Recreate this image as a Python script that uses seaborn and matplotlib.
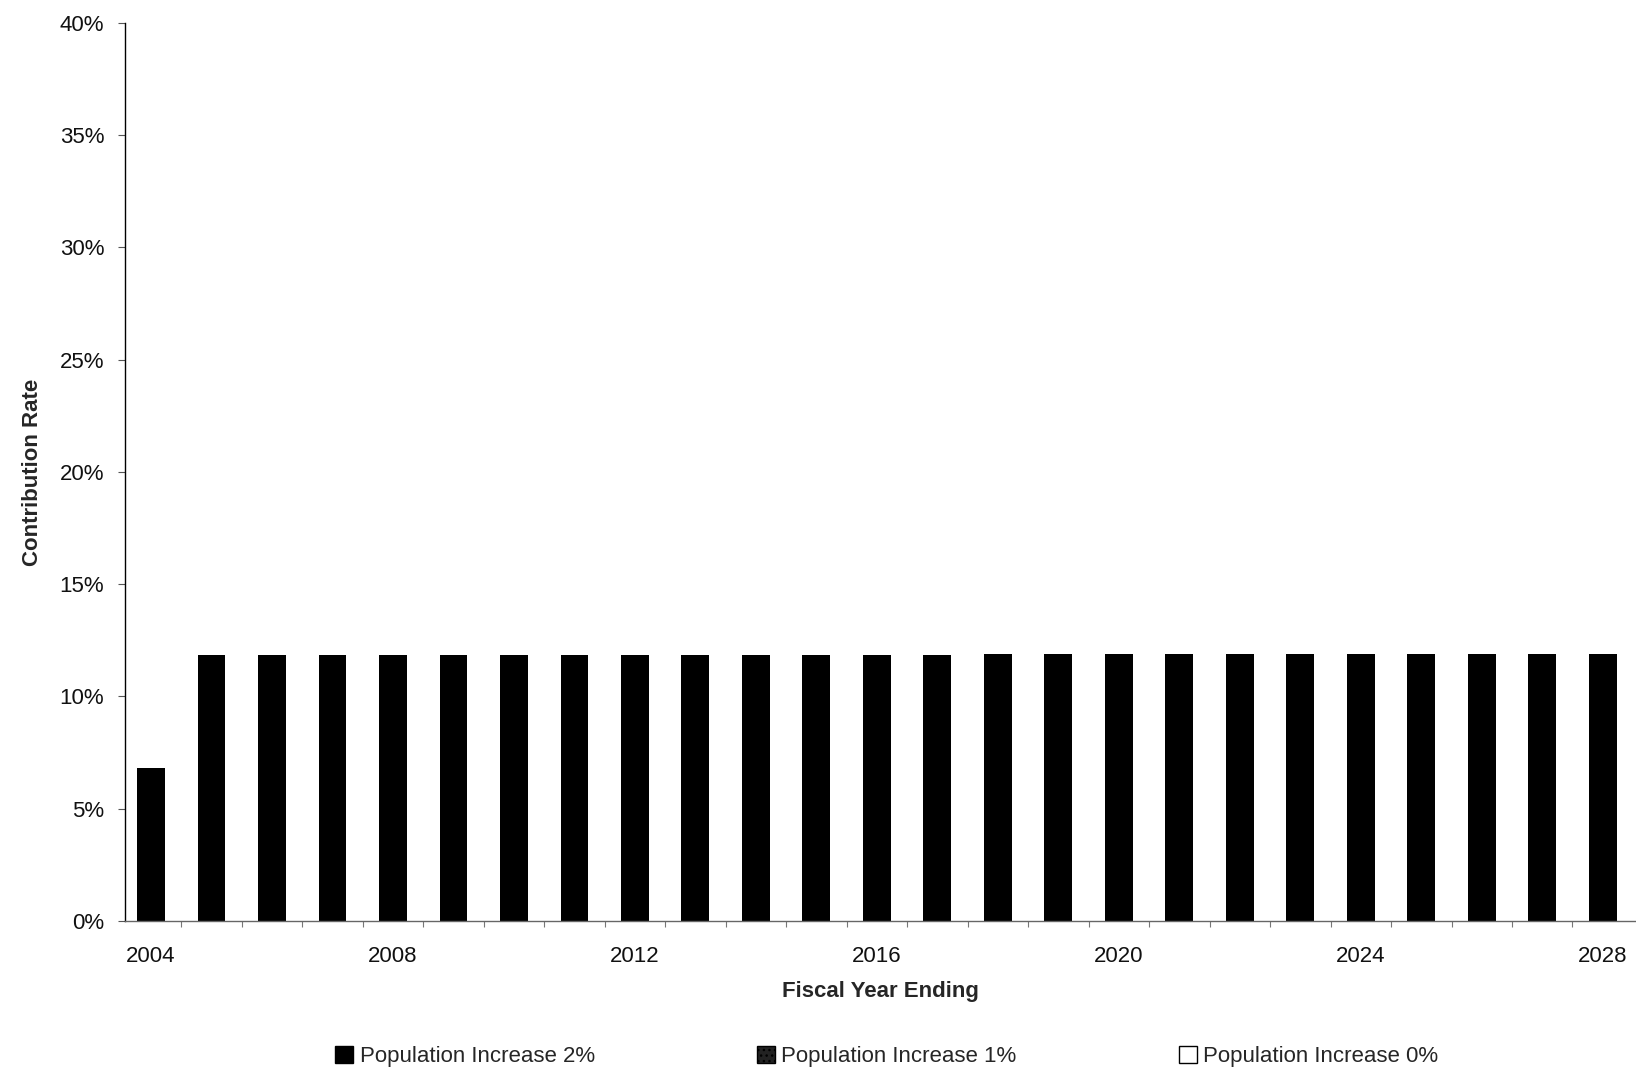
import matplotlib
matplotlib.use("Agg")
import matplotlib.pyplot as plt
from matplotlib.patches import Patch
from matplotlib.ticker import FixedLocator, PercentFormatter
import seaborn as sns
import pandas as pd

years = [str(y) for y in range(2004, 2029)]
rate_2pct = [6.8, 11.85, 11.85, 11.85, 11.85, 11.85, 11.85, 11.85, 11.85, 11.85,
             11.85, 11.85, 11.85, 11.85, 11.9, 11.9, 11.9, 11.9, 11.9, 11.9,
             11.9, 11.9, 11.9, 11.9, 11.9]
series_names = ["Population Increase 2%", "Population Increase 1%", "Population Increase 0%"]
tick_years = ["2004", "2008", "2012", "2016", "2020", "2024", "2028"]
y_ticks = [0, 5, 10, 15, 20, 25, 30, 35, 40]

sns.set_theme(style="white")
plt.rcParams['font.family'] = ['Liberation Sans', 'DejaVu Sans']

df = pd.DataFrame({"year": years, "rate": rate_2pct})

fig = plt.figure(figsize=(16.36, 10.75), dpi=100)
ax = fig.add_axes([0.0764, 0.1433, 0.9236, 0.8353])

sns.barplot(data=df, x="year", y="rate", color="black", width=0.46,
            saturation=1, ax=ax, edgecolor="black", linewidth=0)

ax.set_ylim(0, 40)
ax.set_xlim(-0.43, 24.55)
ax.yaxis.set_major_locator(FixedLocator(y_ticks))
ax.yaxis.set_major_formatter(PercentFormatter(decimals=0))

pos = [years.index(t) for t in tick_years]
ax.set_xticks(pos)
ax.set_xticklabels(tick_years)
ax.set_xticks([i + 0.5 for i in range(len(years) - 1)], minor=True)

ax.tick_params(axis="y", which="major", direction="out", length=5, width=0.8,
               color="#555555", labelsize=16, pad=10, labelcolor="#111111")
ax.tick_params(axis="x", which="major", direction="out", length=0,
               labelsize=16, pad=18, labelcolor="#111111")
ax.tick_params(axis="x", which="minor", direction="out", length=4, width=0.8,
               color="#777777", bottom=True)
ax.tick_params(axis="y", left=True)

for s in ["top", "right"]:
    ax.spines[s].set_visible(False)
ax.spines["left"].set_color("black")
ax.spines["left"].set_linewidth(1.0)
ax.spines["bottom"].set_color("#666666")
ax.spines["bottom"].set_linewidth(1.0)

ax.set_ylabel("Contribution Rate", fontsize=16, fontweight="bold", labelpad=12)
ax.set_xlabel("Fiscal Year Ending", fontsize=16, fontweight="bold", labelpad=10)

handles = [
    Patch(facecolor="black", edgecolor="black"),
    Patch(facecolor="#222222", edgecolor="black", hatch="..."),
    Patch(facecolor="white", edgecolor="black"),
]
fig.legend(handles, series_names, loc="center", bbox_to_anchor=(0.542, 0.017),
           ncol=3, frameon=False, fontsize=16, handlelength=0.8, handleheight=0.8,
           handletextpad=0.3, columnspacing=7.3)

fig.savefig("out.png", dpi=100, facecolor="white")
